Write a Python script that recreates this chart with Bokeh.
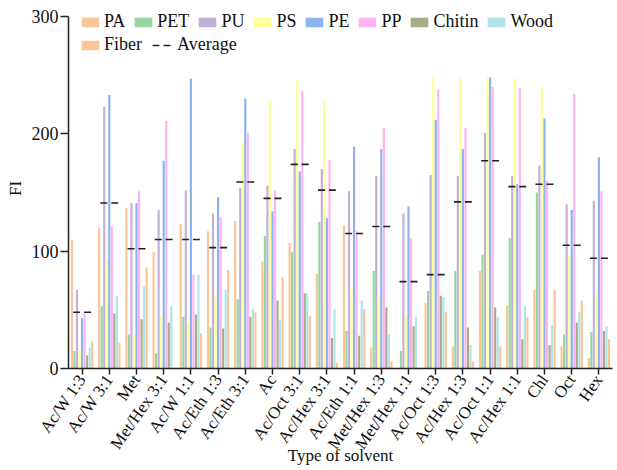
import math
from bokeh.plotting import figure
from bokeh.models import FactorRange, Range1d, Legend, LegendItem, ColumnDataSource, FixedTicker
from bokeh.transform import dodge
from bokeh.embed import file_html
from bokeh.resources import INLINE

categories = ["Ac/W 1:3", "Ac/W 3:1", "Met", "Met/Hex 3:1", "Ac/W 1:1", "Ac/Eth 1:3",
              "Ac/Eth 3:1", "Ac", "Ac/Oct 3:1", "Ac/Hex 3:1", "Ac/Eth 1:1", "Met/Hex 1:3",
              "Met/Hex 1:1", "Ac/Oct 1:3", "Ac/Hex 1:3", "Ac/Oct 1:1", "Ac/Hex 1:1",
              "Chl", "Oct", "Hex"]

PA = [110, 120, 137, 99, 123, 117, 126, 91, 107, 81, 122, 18, 0, 56, 19, 83, 54, 67, 19, 9]
PET = [15, 53, 29, 13, 44, 35, 59, 113, 99, 125, 32, 83, 15, 66, 83, 97, 111, 150, 29, 31]
PU = [67, 223, 141, 135, 152, 132, 154, 156, 187, 170, 151, 164, 132, 165, 164, 201, 164, 173, 140, 143]
PS = [16, 92, 27, 45, 39, 63, 193, 229, 247, 229, 67, 61, 46, 248, 248, 248, 248, 239, 96, 62]
PE = [43, 233, 141, 177, 247, 146, 230, 134, 168, 128, 189, 187, 138, 212, 187, 248, 157, 213, 135, 180]
PP = [47, 121, 151, 211, 80, 129, 201, 152, 237, 178, 117, 205, 111, 238, 205, 240, 239, 160, 234, 151]
Chitin = [11, 47, 42, 39, 46, 34, 44, 58, 64, 26, 28, 52, 36, 62, 35, 52, 25, 20, 39, 32]
Wood = [18, 62, 70, 53, 80, 67, 51, 41, 64, 51, 58, 29, 44, 61, 20, 44, 53, 37, 48, 36]
Fiber = [23, 22, 86, 0, 30, 84, 48, 78, 45, 5, 51, 6, 0, 48, 6, 19, 44, 67, 58, 25]
Average = [48, 141, 102, 110, 110, 103, 159, 145, 174, 152, 115, 121, 74, 80, 142, 177, 155, 157, 105, 94]

y_ticks = [0, 100, 200, 300]

series_names = ["PA", "PET", "PU", "PS", "PE", "PP", "Chitin", "Wood", "Fiber"]
series_values = [PA, PET, PU, PS, PE, PP, Chitin, Wood, Fiber]
colors = ["#F9C699", "#97D6A0", "#C0B2D6", "#FFFF9C", "#8FB3EE", "#FFB5F4",
          "#A9AD86", "#B1E3E8", "#F9C699"]

data = {"cat": categories, "Average": Average}
for n, v in zip(series_names, series_values):
    data[n] = v
src = ColumnDataSource(data)

FONT = "Liberation Serif"

p = figure(x_range=FactorRange(factors=categories, range_padding=0),
           y_range=Range1d(0, 306.8), frame_width=544, frame_height=360,
           output_backend="svg", toolbar_location=None,
           min_border_left=68, min_border_right=5, min_border_top=8, min_border_bottom=0)

step = 0.093
bars = []
for k, n in enumerate(series_names):
    r = p.vbar(x=dodge("cat", (k - 4) * step, range=p.x_range), top=n, width=0.08,
               source=src, fill_color=colors[k], line_color=None)
    bars.append(r)

avg_r = p.segment(x0=dodge("cat", -0.33, range=p.x_range), x1=dodge("cat", 0.33, range=p.x_range),
                  y0="Average", y1="Average", source=src, line_color="#222222",
                  line_width=1.6, line_dash="7 4")

p.xgrid.visible = False
p.ygrid.visible = False
p.outline_line_color = None
p.background_fill_color = "white"

for ax in (p.xaxis[0], p.yaxis[0]):
    ax.axis_line_color = "#222222"
    ax.axis_line_width = 1.5
    ax.major_tick_line_color = "#222222"
    ax.major_tick_line_width = 1.5
    ax.major_tick_in = 0
    ax.major_label_text_font = FONT
    ax.major_label_text_color = "#111111"
    ax.axis_label_text_font = FONT
    ax.axis_label_text_font_style = "normal"
    ax.axis_label_text_color = "#111111"

p.yaxis.ticker = FixedTicker(ticks=y_ticks)
p.yaxis.bounds = (0, 300)
p.yaxis.minor_tick_line_color = None
p.yaxis.major_tick_out = 8
p.yaxis.major_label_text_font_size = "18px"
p.yaxis.major_label_standoff = 2
p.yaxis.axis_label = "FI"
p.yaxis.axis_label_text_font_size = "17px"
p.yaxis.axis_label_standoff = 4

p.xaxis.major_tick_out = 6
p.xaxis.major_label_orientation = math.radians(55)
p.xaxis.major_label_text_font_size = "17px"
p.xaxis.major_label_standoff = 2
p.xaxis.axis_label = "Type of solvent"
p.xaxis.axis_label_text_font_size = "17px"
p.xaxis.axis_label_standoff = -15

def make_legend(items, loc, spacing):
    return Legend(items=items, orientation="horizontal", location=loc,
                  glyph_width=22, glyph_height=12, label_text_font=FONT,
                  label_text_font_size="18px", label_text_color="#111111",
                  spacing=spacing, label_standoff=3, padding=0, margin=0,
                  border_line_color=None, background_fill_alpha=0,
                  label_height=12)

leg1 = make_legend([LegendItem(label=series_names[k], renderers=[bars[k]]) for k in range(8)],
                   (11, 336), 7)
leg2 = make_legend([LegendItem(label="Fiber", renderers=[bars[8]]),
                    LegendItem(label="Average", renderers=[avg_r])], (11, 313), 10)
p.add_layout(leg1)
p.add_layout(leg2)

open("out.html", "w").write(file_html(p, INLINE))
